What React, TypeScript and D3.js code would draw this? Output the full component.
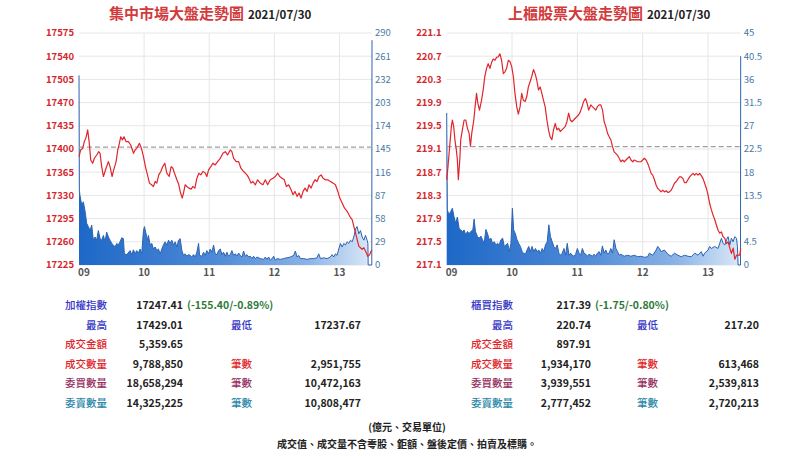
import React from "react";
import * as d3 from "d3";

// ---------- shared axis data ----------
const hourTicks = [0, 60, 120, 180, 240];
const hourLabels = ["09", "10", "11", "12", "13"];
const sessionMinutes = [0, 270];

// ---------- TWSE (集中市場) ----------
const twseTitle = "集中市場大盤走勢圖";
const tradeDate = "2021/07/30";
const twseTicks = [17225, 17260, 17295, 17330, 17365, 17400, 17435, 17470, 17505, 17540, 17575];
const twseVolTicks = [0, 29, 58, 87, 116, 145, 174, 203, 232, 261, 290];
const twsePrevClose = 17402.81;
const twseIndex: [number, number][] = [
  [0,17388.5],[1.5,17398.5],[3.4,17401],[4.9,17411],[6.5,17417.5],[8,17429],[9.5,17408.5],[10.8,17383.5],[12.6,17378.5],[14.2,17386],
  [16.3,17391],[18.2,17396],[19.4,17393.5],[20.9,17373.5],[22.5,17358.5],[24.9,17371],[27.1,17381],[28.6,17373.5],[30.5,17358.5],[32,17368.5],
  [34.2,17381],[35.7,17398.5],[37.2,17408.5],[38.5,17418.5],[40,17413.5],[41.5,17418.5],[43.4,17411],[45.5,17411],[47.7,17406],[50.2,17393.5],
  [51.7,17398.5],[53.2,17401],[55.7,17408.5],[57.5,17401],[59.4,17388.5],[61.2,17373.5],[63.1,17361],[64.9,17348.5],[66.8,17346],[68.6,17343.5],
  [70.2,17351],[71.7,17348.5],[73.5,17361],[75.4,17366],[77.2,17373.5],[79.1,17378.5],[80.9,17363.5],[83.1,17358.5],[84.9,17373.5],[86.5,17371],
  [88,17363.5],[90.2,17353.5],[92,17346],[93.2,17336],[95.1,17326],[96.3,17333.5],[97.8,17346],[99.4,17343.5],[101.2,17341],[103.4,17339.5],
  [104.9,17343.5],[106.8,17341],[108.6,17356],[110.5,17363.5],[112.3,17361],[114.2,17366],[116,17364.5],[117.8,17358.5],[119.4,17368.5],[121.5,17373.5],
  [123.4,17378.5],[125.5,17376],[127.7,17381],[130.2,17386],[132.6,17393.5],[134.8,17396],[136.9,17391],[139.4,17398.5],[140.9,17396],[142.5,17386],
  [144.9,17381],[147.1,17381],[149.2,17371],[151.7,17366],[154.8,17361],[156.6,17356],[158.5,17348.5],[160.3,17351],[162.5,17346],[164.6,17353.5],
  [167.1,17348.5],[169.5,17346],[171.7,17353.5],[173.8,17346],[176.3,17353.5],[178.8,17356],[180.9,17358.5],[183.1,17363.5],[184.9,17358.5],[187.1,17356],
  [189.2,17353.5],[191.1,17343.5],[193.2,17346],[195.4,17338.5],[197.2,17331],[199.1,17336],[200.9,17328.5],[202.8,17333.5],[204.6,17326],[206.5,17336],
  [208.3,17341],[210.2,17336],[212,17346],[213.8,17341],[215.7,17348.5],[217.5,17353.5],[219.4,17351],[221.2,17358.5],[223.1,17361],[224.9,17356],
  [227.1,17353.5],[229.2,17353.5],[231.7,17351],[234.2,17348.5],[236.3,17346],[238.5,17336],[240.3,17326],[242.5,17318.5],[244.6,17311],[247.1,17306],
  [249.5,17298.5],[251.7,17293.5],[253.2,17283.5],[254.8,17273.5],[256.3,17263.5],[257.8,17253.5],[259.4,17251],[260.9,17248.5],[262.5,17251],[264,17246],
  [266.2,17238],[268,17241],[269.2,17246],[270,17247.41],
];
const twseVolume: [number, number][] = [
  [0,237],[0.3,93.5],[0.9,87],[2.5,75],[4,79],[5.5,68],[7.1,52],[8.6,48],[10.2,43],[11.7,50],[13.2,31],[14.8,35],[16.3,31],[17.8,43],[19.4,33],
  [20.9,31],[22.5,37],[24,29],[25.5,41],[27.1,35],[28.6,31],[30.2,27],[31.7,25],[33.2,22.5],[34.8,27],[36.3,25],[37.8,29],[39.4,34],[40.9,33],
  [41.8,14],[44,13],[47.1,18],[48.6,13],[50.2,19],[51.7,14],[53.2,18],[54.8,15],[56.3,20],[57.8,14],[59.4,43],[60.3,48],[61.8,39],[63.1,31],
  [64,37],[65.5,25],[67.1,27],[68.6,20],[70.2,22.5],[71.7,18],[73.2,20],[74.8,14],[76.3,20],[77.8,25],[79.4,29],[80.9,25],[82.5,31],[84,27],
  [85.5,31],[87.1,25],[88.6,29],[90.2,22.5],[91.7,31],[93.2,33],[94.8,18],[96.3,12],[97.8,14],[99.4,11],[100.9,13],[102.5,12],[104,10],
  [105.5,13],[107.1,10],[108.6,16],[110.2,27],[111.1,12],[113.2,11],[114.8,16],[116.3,12],[117.8,18],[119.4,14],[120.9,20],[122.5,16],[124,25],
  [125.5,14],[127.1,13],[128.6,18],[130.2,20],[131.7,13],[133.2,16],[134.8,11],[136.3,16],[137.8,11],[139.4,13],[140.9,18],[142.5,12],[144,14],
  [145.5,11],[147.1,15],[148.6,12],[150.2,10],[151.7,17.5],[153.2,11],[154.8,13],[156.3,10],[157.8,11],[159.4,8],[160.9,11],[162.5,8],[164,10],
  [167.1,8],[170.2,7],[171.7,10],[173.2,7],[174.8,10],[176.3,6],[177.8,8],[179.4,11],[180.9,6],[182.5,8],[185.5,7],[188.6,8],[191.7,9],
  [194.8,10],[197.8,12],[199.4,17.5],[200.9,10],[202.5,12],[204,8],[207.1,8],[210.2,7],[213.2,8],[216.3,8],[219.4,9],[220.9,14],[222.5,8],
  [225.5,9],[228.6,8],[231.7,10],[233.2,13],[234.8,10],[236.3,14],[237.8,12],[239.4,20],[240.9,27],[242.5,22.5],[244,27],[245.5,25],[247.1,29],
  [248.6,27],[250.2,31],[251.7,29],[253.2,35],[254.8,45],[256.3,48],[257.8,39],[259.4,43],[260.9,35],[262.5,31],[264,37],[265.5,31],[266.2,27],
  [266.5,0],[269.8,0],[270,281],
];

// ---------- OTC (上櫃) ----------
const otcTitle = "上櫃股票大盤走勢圖";
const otcTicks = [217.1, 217.5, 217.9, 218.3, 218.7, 219.1, 219.5, 219.9, 220.3, 220.7, 221.1];
const otcVolTicks = [0, 4.5, 9, 13.5, 18, 22.5, 27, 31.5, 36, 40.5, 45];
const otcPrevClose = 219.14;
const otcIndex: [number, number][] = [
  [0,218.57],[1.2,218.8],[2.7,219.14],[4.3,219.49],[5.2,219.6],[6.4,219.49],[7.7,219.23],[8.9,219.08],[9.8,218.91],[10.7,218.57],
  [12,218.91],[12.9,219.26],[14.4,219.43],[16,219.6],[17.5,219.6],[19,219.46],[20.6,219.37],[21.8,219.15],[23,219.37],[24.9,219.6],
  [26.1,219.83],[27.4,220.06],[28.6,219.89],[30.1,219.77],[32,219.94],[33.5,220.12],[35,220.35],[36.6,220.49],[38.1,220.57],[39.7,220.49],
  [41.2,220.59],[42.7,220.65],[44.3,220.63],[45.8,220.68],[47.4,220.69],[48.9,220.74],[50.4,220.63],[52,220.4],[53.5,220.43],[55,220.49],
  [56.6,220.63],[58.1,220.61],[59.7,220.52],[61.2,220.35],[62.7,220.06],[64.3,219.83],[65.8,219.7],[67.4,219.83],[68.9,220.06],[70.4,219.94],
  [72,219.92],[73.5,220],[75,220.17],[76.6,220.26],[78.1,220.35],[79.7,220.47],[81.2,220.4],[82.7,220.29],[84.3,220.12],[85.8,220.17],
  [87.4,220.06],[88.9,219.94],[90.4,219.83],[92,219.6],[93.5,219.43],[95,219.31],[96.6,219.26],[98.1,219.43],[99.7,219.54],[101.2,219.43],
  [102.7,219.46],[104.3,219.4],[105.8,219.43],[107.4,219.46],[108.9,219.49],[110.4,219.57],[112,219.72],[113.5,219.6],[115,219.57],[116.6,219.6],
  [118.1,219.63],[119.7,219.66],[121.2,219.69],[122.7,219.74],[124.3,219.83],[125.8,219.92],[127.4,219.97],[128.9,219.89],[130.4,219.77],[132.3,219.86],
  [133.8,219.83],[135.4,219.8],[136.9,219.77],[138.4,219.83],[140,219.86],[141.5,219.86],[143.1,219.77],[144.6,219.57],[146.1,219.49],[147.7,219.37],
  [149.2,219.31],[150.7,219.26],[152.3,219.14],[153.8,219.05],[155.4,219.02],[156.9,218.99],[158.4,218.94],[160,218.88],[161.5,218.91],[163.1,218.88],
  [164.6,218.91],[166.2,218.94],[167.7,218.97],[169.2,218.91],[170.8,218.88],[172.3,218.91],[175.4,218.88],[178.4,218.88],[180,218.91],[181.5,218.94],
  [183.1,218.91],[184.6,218.85],[186.2,218.77],[187.7,218.68],[189.2,218.65],[190.8,218.57],[192.3,218.48],[193.8,218.42],[195.4,218.39],[196.9,218.36],
  [198.5,218.39],[200,218.36],[201.5,218.38],[203.1,218.35],[204.6,218.36],[206.2,218.39],[207.7,218.45],[209.2,218.51],[210.8,218.54],[212.3,218.58],
  [213.8,218.62],[215.4,218.62],[216.9,218.59],[218.4,218.52],[220,218.52],[221.5,218.57],[223.1,218.62],[224.6,218.65],[226.2,218.68],[227.7,218.65],
  [229.2,218.68],[230.8,218.65],[232.3,218.68],[233.8,218.64],[235.4,218.59],[236.9,218.51],[238.5,218.42],[240,218.31],[241.5,218.16],[243.1,218.05],
  [244.6,217.96],[246.2,217.88],[247.7,217.79],[249.2,217.7],[250.8,217.65],[252.3,217.67],[253.8,217.59],[255.4,217.56],[256.9,217.47],[258.5,217.5],
  [260,217.39],[261.5,217.3],[263.1,217.39],[264.6,217.2],[266.2,217.27],[267.7,217.27],[269.2,217.27],[270,217.39],
];
const otcVolume: [number, number][] = [
  [0,29.5],[0.6,10.7],[2.1,9.7],[3.7,10.4],[5.2,11],[6.7,9.4],[8.3,8.1],[9.8,9.3],[11.4,7.1],[12.9,6.8],[14.4,6.5],[16,6.8],[17.5,5.8],
  [19.1,6.5],[20.6,6.1],[22.1,6.5],[24,6.8],[25.2,8.9],[26.4,6.5],[28.3,5.5],[29.8,5.2],[31.4,5.6],[32.9,4.9],[34.4,4.2],[36,6.9],[37.5,6.1],
  [39,4.9],[40.6,5.2],[42.1,4.2],[43.7,4.5],[45.2,3.9],[46.7,4.2],[48.3,3.9],[49.8,4.9],[51.4,5.2],[52.9,3.6],[54.4,3.9],[56,4.2],[57.5,2.6],
  [59,4.2],[60.3,11],[61.5,6.8],[63,6.1],[64.6,4.9],[66.1,4.2],[67.7,3.6],[69.2,2.6],[70.7,2.3],[72.3,2.1],[73.8,2.9],[75.3,3.6],[76.9,2.6],
  [78.4,3.6],[80,2.6],[81.5,3.2],[83,2.6],[84.6,2.9],[86.1,2.3],[87.7,3.2],[89.2,2.6],[90.7,3.9],[92.3,4.5],[93.8,7.8],[95.3,5.5],[96.9,4.5],
  [98.4,3.6],[100,3.2],[101.5,3.9],[103,2.3],[104.6,1.9],[106.1,2.3],[107.7,3.2],[109.2,1.9],[110.7,4.2],[112.3,1.9],[113.8,2.3],[115.3,1.9],
  [116.9,1.7],[118.4,2.1],[120,3.2],[121.5,2.3],[123,1.9],[124.6,3.2],[126.1,2.3],[127.7,2.1],[129.2,1.7],[130.7,2.1],[132.3,1.9],[133.8,1.7],
  [135.3,2.1],[136.9,1.7],[138.4,2.3],[140,2.6],[141.5,1.9],[143,3.7],[144.6,2.3],[146.1,2.9],[147.7,2.1],[149.2,2.3],[150.7,3.2],[152.3,2.3],
  [153.8,4.9],[155.4,3.2],[156.9,2.6],[158.4,1.9],[160,2.1],[161.5,1.9],[163,1.7],[166.1,1.9],[169.2,1.7],[172.3,1.9],[175.4,1.6],[178.4,1.7],
  [181.5,1.5],[184.6,1.6],[186.1,2.3],[189.2,1.9],[192.3,2.9],[193.8,3.6],[195.4,3.2],[196.9,2.6],[200,2.9],[203,2.1],[206.1,1.7],[209.2,2.3],
  [212.3,1.9],[215.4,1.6],[218.4,1.9],[221.5,1.7],[224.6,1.6],[227.7,2.3],[230.8,1.9],[233.8,2.6],[235.4,1.7],[236.9,2.3],[240,2.9],[241.5,3.6],
  [243,3.2],[246.1,3.6],[249.2,3.2],[252.3,5.2],[253.8,4.2],[255.4,3.9],[256.9,4.9],[258.4,5.5],[260,3.9],[261.5,5.2],[263,4.5],[264.6,5.5],
  [266.1,5.2],[267,3.6],[267.6,0],[269.8,0],[270,40.5],
];

// ---------- tables ----------
const twseLabels = ["加權指數", "最高", "成交金額", "成交數量", "委買數量", "委賣數量"];
const twseValues = ["17247.41", "17429.01", "5,359.65", "9,788,850", "18,658,294", "14,325,225"];
const twseChange = "(-155.40/-0.89%)";
const twseLabels2 = ["", "最低", "", "筆數", "筆數", "筆數"];
const twseValues2 = ["", "17237.67", "", "2,951,755", "10,472,163", "10,808,477"];

const otcLabels = ["櫃買指數", "最高", "成交金額", "成交數量", "委買數量", "委賣數量"];
const otcValues = ["217.39", "220.74", "897.91", "1,934,170", "3,939,551", "2,777,452"];
const otcChange = "(-1.75/-0.80%)";
const otcLabels2 = ["", "最低", "", "筆數", "筆數", "筆數"];
const otcValues2 = ["", "217.20", "", "613,468", "2,539,813", "2,720,213"];

const rowColors = ["#3434c4", "#3434c4", "#e0242a", "#e0242a", "#95305f", "#2b87a8"];
const footnotes = ["(億元、交易單位)", "成交值、成交量不含零股、鉅額、盤後定價、拍賣及標購。"];

const FONT = "'Noto Sans CJK TC', 'Noto Sans', sans-serif";
const TOP = 33;
const BOTTOM = 265;

type ChartProps = {
  id: string;
  x0: number;
  x1: number;
  title: string;
  titleX: number;
  index: [number, number][];
  volume: [number, number][];
  ticks: number[];
  volTicks: number[];
  prevClose: number;
  fmt: (v: number) => string;
};

function Chart(p: ChartProps) {
  const x = d3.scaleLinear().domain(sessionMinutes).range([p.x0, p.x1]);
  const y = d3.scaleLinear().domain([p.ticks[0], p.ticks[p.ticks.length - 1]]).range([BOTTOM, TOP]);
  const yv = d3.scaleLinear().domain([p.volTicks[0], p.volTicks[p.volTicks.length - 1]]).range([BOTTOM, TOP]);
  const area = d3.area<[number, number]>().x((d) => x(d[0])).y0(BOTTOM).y1((d) => yv(d[1]));
  const vline = d3.line<[number, number]>().x((d) => x(d[0])).y((d) => yv(d[1]));
  const line = d3.line<[number, number]>().x((d) => x(d[0])).y((d) => y(d[1]));
  const gid = `grad-${p.id}`;
  return (
    <g>
      <defs>
        <linearGradient id={gid} gradientUnits="userSpaceOnUse" x1={p.x0} y1={0} x2={p.x1} y2={0}>
          <stop offset="0" stopColor="#1d68c7" />
          <stop offset="0.45" stopColor="#4c88d6" />
          <stop offset="0.78" stopColor="#8ab3e6" />
          <stop offset="1" stopColor="#dce9f8" />
        </linearGradient>
      </defs>
      <text x={p.titleX} y={19} fontFamily={FONT}>
        <tspan fontSize={15} fontWeight="bold" fill="#d23a3c">{p.title}</tspan>
        <tspan fontSize={11.5} fontWeight="bold" fill="#222" dx={4}>{tradeDate}</tspan>
      </text>
      {p.ticks.map((t) => (
        <line key={`h${t}`} x1={p.x0} x2={p.x1} y1={y(t)} y2={y(t)} stroke="#e6e6e6" strokeWidth={1} />
      ))}
      {hourTicks.slice(1).map((t) => (
        <line key={`v${t}`} x1={x(t)} x2={x(t)} y1={TOP} y2={BOTTOM} stroke="#e6e6e6" strokeWidth={1} />
      ))}
      <path d={area(p.volume) || ""} fill={`url(#${gid})`} />
      <path d={vline(p.volume) || ""} fill="none" stroke="#2d63b2" strokeWidth={1} />
      <line x1={p.x0} x2={p.x1} y1={y(p.prevClose)} y2={y(p.prevClose)} stroke="#a0a0a0" strokeWidth={1.2} strokeDasharray="5,3" />
      <path d={line(p.index) || ""} fill="none" stroke="#e1252c" strokeWidth={1.2} strokeLinejoin="round" />
      {p.ticks.map((t) => (
        <text key={`l${t}`} x={p.x0 - 5} y={y(t)} dy="0.35em" textAnchor="end" fontFamily={FONT} fontSize={9.5} fontWeight="bold" fill="#d4262c">
          {p.fmt(t)}
        </text>
      ))}
      {p.volTicks.map((t) => (
        <text key={`r${t}`} x={p.x1 + 3} y={yv(t)} dy="0.35em" textAnchor="start" fontFamily={FONT} fontSize={9.5} fill="#4a78a6">
          {String(t)}
        </text>
      ))}
      {hourTicks.map((t, i) => (
        <text key={`x${t}`} x={i === 0 ? x(t) - 1 : x(t)} y={276} textAnchor={i === 0 ? "start" : "middle"} fontFamily={FONT} fontSize={10} fontWeight="bold" fill="#555">
          {hourLabels[i]}
        </text>
      ))}
    </g>
  );
}

type TableProps = {
  labels: string[];
  values: string[];
  change: string;
  labels2: string[];
  values2: string[];
  labelX: number;
  valueX: number;
  label2X: number;
  value2X: number;
};

const rowY = d3.scalePoint<number>().domain([0, 1, 2, 3, 4, 5]).range([309, 407]);

function Table(p: TableProps) {
  return (
    <g fontFamily={FONT} fontSize={10.5}>
      {p.labels.map((l, i) => (
        <g key={i}>
          <text x={p.labelX} y={rowY(i)} textAnchor="end" fill={rowColors[i]} fontWeight={500}>{l}</text>
          <text x={p.valueX} y={rowY(i)} textAnchor="end" fill="#222" fontWeight="bold">{p.values[i]}</text>
          {i === 0 && (
            <text x={p.valueX + 4} y={rowY(i)} textAnchor="start" fill="#2e7a3a" fontWeight="bold">{p.change}</text>
          )}
          {p.labels2[i] && (
            <text x={p.label2X} y={rowY(i)} textAnchor="start" fill={rowColors[i]} fontWeight={500}>{p.labels2[i]}</text>
          )}
          {p.values2[i] && (
            <text x={p.value2X} y={rowY(i)} textAnchor="end" fill="#222" fontWeight="bold">{p.values2[i]}</text>
          )}
        </g>
      ))}
    </g>
  );
}

export default function App() {
  const intFmt = d3.format("d");
  const decFmt = d3.format(".1f");
  return (
    <svg width={810} height={456} style={{ position: "absolute", left: 0, top: 0, background: "#fff" }}>
      <rect width={810} height={456} fill="#fff" />
      <Chart id="twse" x0={79} x1={372} title={twseTitle} titleX={109} index={twseIndex} volume={twseVolume}
        ticks={twseTicks} volTicks={twseVolTicks} prevClose={twsePrevClose} fmt={intFmt} />
      <Chart id="otc" x0={446.7} x1={740.7} title={otcTitle} titleX={508} index={otcIndex} volume={otcVolume}
        ticks={otcTicks} volTicks={otcVolTicks} prevClose={otcPrevClose} fmt={decFmt} />
      <Table labels={twseLabels} values={twseValues} change={twseChange} labels2={twseLabels2} values2={twseValues2}
        labelX={107} valueX={183} label2X={231} value2X={361} />
      <Table labels={otcLabels} values={otcValues} change={otcChange} labels2={otcLabels2} values2={otcValues2}
        labelX={513} valueX={591} label2X={637} value2X={759} />
      {footnotes.map((f, i) => (
        <text key={i} x={407} y={431 + i * 17} textAnchor="middle" fontFamily={FONT} fontSize={10} fontWeight="bold" fill="#222">{f}</text>
      ))}
    </svg>
  );
}
